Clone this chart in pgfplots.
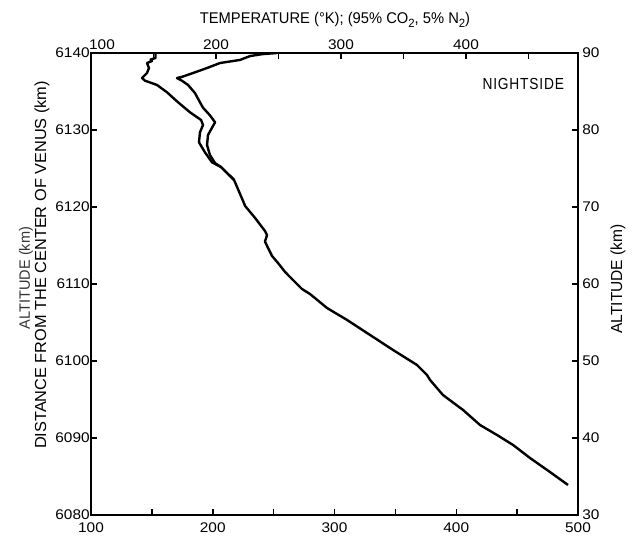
\documentclass[border=0pt]{standalone}
\usepackage{fontspec}
\setmainfont{Liberation Sans}
\newfontfamily\tickf[FakeStretch=1.1]{Liberation Sans}
\newfontfamily\titf[FakeStretch=0.95]{Liberation Sans}
\newfontfamily\labf[FakeStretch=1.02]{Liberation Sans}
\newfontfamily\altf[FakeStretch=0.97]{Liberation Sans}
\newfontfamily\nightf[FakeStretch=0.86,LetterSpace=5]{Liberation Sans}
\usepackage{pgfplots}
\pgfplotsset{compat=1.18}
\pgfplotstableread{
T y
153.0 6140.0
153.0 6139.35
149.0 6139.15
150.1 6138.96
146.0 6138.7
147.6 6138.05
146.0 6137.4
141.9 6136.75
144.4 6136.4
154.2 6135.85
162.4 6134.9
171.5 6133.6
181.3 6132.3
190.4 6131.3
192.0 6130.65
189.5 6129.7
188.7 6128.4
193.6 6127.1
199.4 6125.8
206.8 6125.19
217.5 6123.51
224.9 6120.78
226.6 6120.13
234.8 6118.57
242.9 6116.88
244.6 6116.36
242.9 6115.52
245.4 6114.68
248.7 6113.64
253.6 6112.73
259.4 6111.56
265.9 6110.52
273.3 6109.35
279.9 6108.70
293.9 6106.88
310.3 6105.33
329.2 6103.38
348.1 6101.43
367.8 6099.48
376.0 6098.18
378.5 6097.53
389.1 6095.58
405.6 6093.64
419.5 6091.69
433.5 6090.39
446.7 6089.09
460.6 6087.40
477.0 6085.58
491.8 6083.90
}\curveA
\pgfplotstableread{
T y
252.8 6140.0
240.5 6139.85
230.6 6139.6
222.4 6139.1
206.0 6138.7
195.3 6138.05
183.8 6137.4
174.7 6136.9
170.6 6136.75
174.7 6136.4
179.7 6135.85
185.4 6134.8
189.5 6133.6
192.0 6132.9
197.7 6131.9
201.9 6131.0
199.4 6130.3
196.1 6129.35
195.3 6128.05
197.7 6126.75
201.9 6125.7
206.8 6125.19
217.5 6123.51
}\curveB
\begin{document}
\begin{tikzpicture}
\path[use as bounding box] (0,0) rectangle (634pt,541pt);
\pgfplotsset{
  every axis/.append style={
    scale only axis, width=487pt, height=462pt,
    at={(91pt,26pt)}, anchor=south west,
    line width=2pt,
    tick align=inside,
    major tick length=6pt, minor tick length=6pt,
    every tick/.style={line width=1.5pt, black},
    tick label style={font=\tickf\fontsize{14}{16}\selectfont},
    /pgf/number format/assume math mode=true,
    /pgf/number format/1000 sep={},
  }
}
% main axis: bottom + left
\begin{axis}[
  xmin=100, xmax=500, ymin=6080, ymax=6140,
  xtick={100,200,300,400,500}, minor xtick={150,250,350,450},
  ytick={6080,6090,...,6140},
  xtick pos=bottom, ytick pos=left,
  xticklabel style={yshift=-3pt},
  yticklabel style={xshift=3pt},
]
\addplot[black, line width=2.4pt, line join=round] table[x=T,y=y]{\curveA};
\addplot[black, line width=2.4pt, line join=round] table[x=T,y=y]{\curveB};
\node[font=\nightf\fontsize{16}{18}\selectfont, anchor=east] at (axis cs:492,6136.0) {NIGHTSIDE};
\end{axis}
% top axis
\begin{axis}[
  xmin=100, xmax=489.6, ymin=0, ymax=1,
  axis x line*=top, axis y line=none,
  xtick={100,200,300,400}, minor xtick={150,250,350,450},
  xticklabel={\ifnum\ticknum=0 \hspace*{22pt}\fi\pgfmathprintnumber{\tick}},
  xticklabel style={yshift=-1pt},
]
\end{axis}
% right axis
\begin{axis}[
  xmin=0, xmax=1, ymin=30, ymax=90,
  axis y line*=right, axis x line=none,
  ytick={30,40,...,90},
  yticklabel style={xshift=0pt},
]
\end{axis}
\node[font=\titf\fontsize{15.5}{17}\selectfont] at (335pt,521pt) {TEMPERATURE (°K); (95\% CO\raisebox{-0.4ex}{\fontsize{12}{12}\selectfont 2}, 5\% N\raisebox{-0.4ex}{\fontsize{12}{12}\selectfont 2})};
\node[rotate=90, font=\altf\fontsize{16}{18}\selectfont] at (618pt,262pt) {ALTITUDE (km)};
\node[rotate=90, font=\labf\fontsize{16}{18}\selectfont] at (42pt,276pt) {DISTANCE FROM THE CENTER OF VENUS (km)};
\node[rotate=90, font=\altf\fontsize{15}{17}\selectfont, text=black!80] at (26pt,263pt) {ALTITUDE (km)};
\end{tikzpicture}
\end{document}
